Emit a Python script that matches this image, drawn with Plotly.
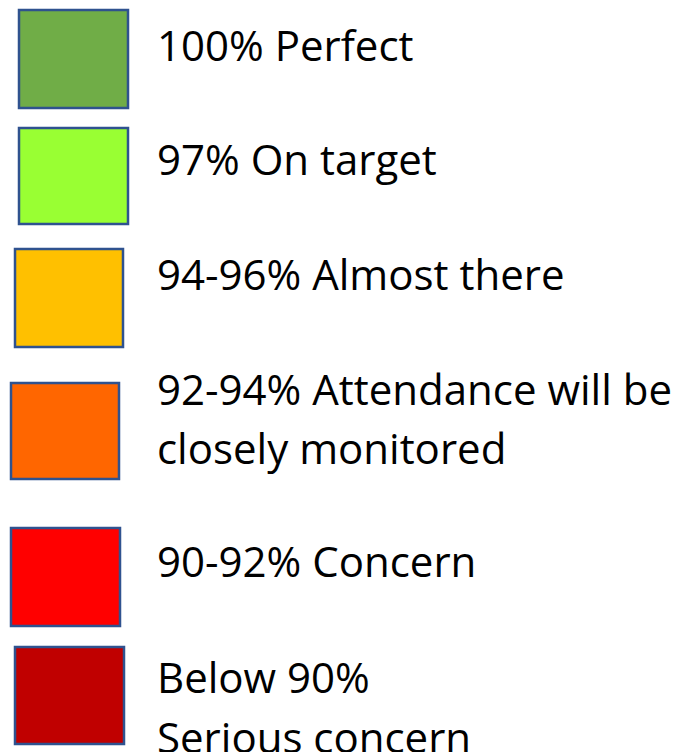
import plotly.graph_objects as go

# ---- data ----
labels = [
    "100% Perfect",
    "97% On target",
    "94-96% Almost there",
    "92-94% Attendance will be<br>closely monitored",
    "90-92% Concern",
    "Below 90%<br>Serious concern",
]
fill_colors = ["#70AD47", "#99FF33", "#FFC000", "#FF6600", "#FF0000", "#C00000"]

# ---- layout (pixel-space positions) ----
W, H = 692, 752
PAGE_MARGIN = 8  # browser default body margin, compensated via axis ranges
box_x0 = [19, 19, 15, 11, 11, 15]
box_x1 = [128, 128, 123, 119, 120, 124]
box_y0 = [10, 128, 249, 383, 528, 647]
box_y1 = [108, 224, 347, 479, 626, 744]
text_x = 155
text_y = [44.5, 158.5, 273.5, 388, 560.5, 676.5]
line_gap = 59.5
font_size = 42
border_color = "#2F528F"

fig = go.Figure()
fig.add_trace(go.Scatter(x=[0, W], y=[0, H], mode="markers",
                         marker=dict(opacity=0), hoverinfo="skip", showlegend=False))

for i, lab in enumerate(labels):
    fig.add_shape(type="rect", xref="x", yref="y",
                  x0=box_x0[i], x1=box_x1[i], y0=box_y0[i], y1=box_y1[i],
                  fillcolor=fill_colors[i],
                  line=dict(color=border_color, width=2.5))
    for j, line in enumerate(lab.split("<br>")):
        fig.add_annotation(x=text_x, y=text_y[i] + j * line_gap, xref="x", yref="y",
                           text=line, showarrow=False, xanchor="left", yanchor="middle",
                           font=dict(family="Open Sans", size=font_size, color="#000000"))

fig.update_xaxes(range=[PAGE_MARGIN, W + PAGE_MARGIN], visible=False, fixedrange=True)
fig.update_yaxes(range=[H + PAGE_MARGIN, PAGE_MARGIN], visible=False, fixedrange=True)
fig.update_layout(width=W, height=H, margin=dict(l=0, r=0, t=0, b=0),
                  paper_bgcolor="white", plot_bgcolor="white", showlegend=False)

fig.write_html("out.html", config={"displayModeBar": False})
